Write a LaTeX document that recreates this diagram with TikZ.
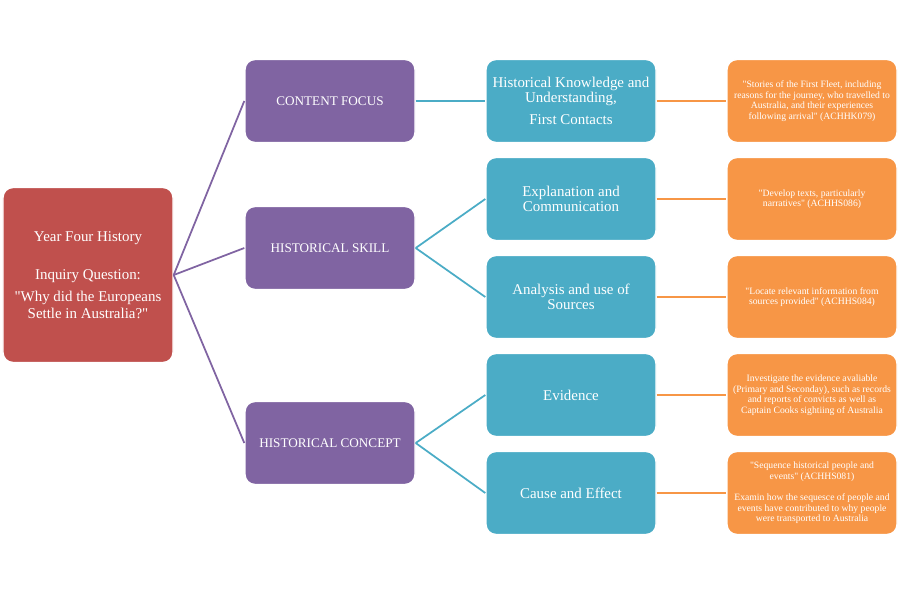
\documentclass[tikz,border=0pt]{standalone}
\usepackage{fontspec}
\setmainfont{Liberation Serif}
\usetikzlibrary{arrows.meta}
\definecolor{qred}{HTML}{C0504D}
\definecolor{qpurple}{HTML}{8064A2}
\definecolor{qblue}{HTML}{4BACC6}
\definecolor{qorange}{HTML}{F79646}
\newcommand{\qq}{\textquotedbl}

\begin{document}
\begin{tikzpicture}
    \useasboundingbox (0,0) rectangle (18,-12);
    \tikzset{box/.style={rectangle,rounded corners=0.2cm,draw=white,thick,
        text=white,align=center,minimum width=3.4cm,minimum height=1.66cm,inner sep=2pt}}
    \begin{scope}[every node/.style={box}]
        \node[fill=qred,minimum height=3.5cm,font=\fontsize{8.5}{9.5}\selectfont] (question) at (1.76,-5.5)
            {Year Four History\\[12pt] Inquiry Question:\\[3pt] \qq Why did the Europeans\\ Settle in Australia?\qq};
        \node[fill=qpurple,font=\fontsize{7.5}{9}\selectfont] (focus) at (6.6,-2.02) {CONTENT FOCUS};
        \node[fill=qpurple,font=\fontsize{7.5}{9}\selectfont] (skill) at (6.6,-4.96) {HISTORICAL SKILL};
        \node[fill=qpurple,font=\fontsize{7.5}{9}\selectfont] (concept) at (6.6,-8.86) {HISTORICAL CONCEPT};
    \end{scope}
    \begin{scope}[every node/.style={box,fill=qblue,font=\fontsize{8.5}{8.5}\selectfont}]
        \node (knowledge) at (11.42,-2.02) {Historical Knowledge and\\ Understanding,\\[4pt] First Contacts};
        \node (explain) at (11.42,-3.98) {Explanation and\\ Communication};
        \node (analysis) at (11.42,-5.94) {Analysis and use of\\ Sources};
        \node (evidence) at (11.42,-7.9) {Evidence};
        \node (cause) at (11.42,-9.86) {Cause and Effect};
    \end{scope}
    \begin{scope}[every node/.style={box,fill=qorange,font=\fontsize{5.5}{6}\selectfont}]
        \node (stories) at (16.24,-2.02) {\qq Stories of the First Fleet, including\\ reasons for the journey, who travelled to\\ Australia, and their experiences\\ following arrival\qq{} (ACHHK079)};
        \node (develop) at (16.24,-3.98) {\qq Develop texts, particularly\\ narratives\qq{} (ACHHS086)};
        \node (locate) at (16.24,-5.94) {\qq Locate relevant information from\\ sources provided\qq{} (ACHHS084)};
        \node (investigate) at (16.24,-7.9) {Investigate the evidence avaliable\\ (Primary and Seconday), such as records\\ and reports of convicts as well as\\ Captain Cooks sightiing of Australia};
        \node (sequence) at (16.24,-9.86) {\qq Sequence historical people and\\ events\qq{} (ACHHS081)\\[6pt] Examin how the sequesce of people and\\ events have contributed to why people\\ were transported to Australia};
    \end{scope}
    \begin{scope}[every edge/.style={draw,line width=1pt}]
        \path [-] (question.east) edge[draw=qpurple] (focus.west);
        \path [-] (question.east) edge[draw=qpurple] (skill.west);
        \path [-] (question.east) edge[draw=qpurple] (concept.west);
        \path [-] (focus.east) edge[draw=qblue] (knowledge.west);
        \path [-] (skill.east) edge[draw=qblue] (explain.west);
        \path [-] (skill.east) edge[draw=qblue] (analysis.west);
        \path [-] (concept.east) edge[draw=qblue] (evidence.west);
        \path [-] (concept.east) edge[draw=qblue] (cause.west);
        \path [-] (knowledge) edge[draw=qorange] (stories);
        \path [-] (explain) edge[draw=qorange] (develop);
        \path [-] (analysis) edge[draw=qorange] (locate);
        \path [-] (evidence) edge[draw=qorange] (investigate);
        \path [-] (cause) edge[draw=qorange] (sequence);
    \end{scope}

\end{tikzpicture}
\end{document}
